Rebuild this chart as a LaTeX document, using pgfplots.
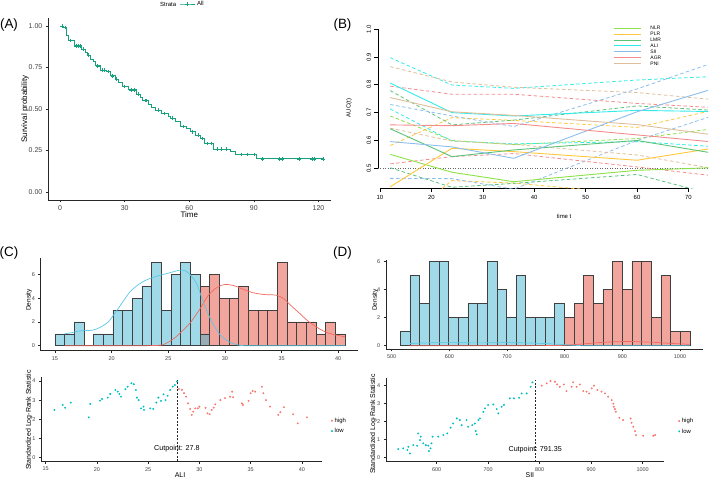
\documentclass[border=0pt]{standalone}
\usepackage{fontspec}
\setmainfont{Liberation Sans}
\usepackage{pgfplots}
\pgfplotsset{compat=1.18}

\definecolor{survgreen}{RGB}{25,160,125}
\definecolor{cNLR}{RGB}{140,225,70}
\definecolor{cPLR}{RGB}{255,200,60}
\definecolor{cLMR}{RGB}{90,195,120}
\definecolor{cALI}{RGB}{50,235,235}
\definecolor{cSII}{RGB}{140,190,235}
\definecolor{cAGR}{RGB}{245,140,140}
\definecolor{cPNI}{RGB}{222,190,155}
\definecolor{histblue}{RGB}{65,182,210}
\definecolor{histred}{RGB}{230,75,60}
\definecolor{denblue}{RGB}{90,200,230}
\definecolor{denred}{RGB}{240,105,95}
\definecolor{ptred}{RGB}{248,118,109}
\definecolor{ptblue}{RGB}{0,191,196}

\pgfplotsset{
  gg/.style={scale only axis, anchor=south west,
    axis x line*=bottom, axis y line*=left,
    axis line style={line width=0.6bp, black!85},
    tick align=outside, major tick length=2.2bp,
    tick style={line width=0.5bp, black!85},
    /pgf/number format/assume math mode=true,
    /pgf/number format/set thousands separator={},
    ticklabel style={font=\fontsize{5.5}{6}\selectfont, text=black!75},
  },
  bdash/.style={line width=0.8bp, dash pattern=on 3.5bp off 2.5bp, forget plot},
  bsolid/.style={line width=0.9bp},
  hbar/.style={ybar interval, draw=black!75, line width=0.6bp, fill opacity=0.5},
  ptstyle/.style={only marks, mark=*, mark size=0.75bp},
  scatleg/.style={legend style={draw=none, fill=none, font=\fontsize{6}{6}\selectfont, inner sep=0pt, row sep=0pt, column sep=1.5bp, nodes={inner sep=0.5bp, text height=6.5bp, text depth=2.8bp}},
    legend cell align=left,
    legend image code/.code={\draw[##1] plot coordinates {(1bp,0bp)};}},
}

\begin{document}
\begin{tikzpicture}
\useasboundingbox (0,0) rectangle (709bp,483bp);

% ---------------- Panel A ----------------
\begin{axis}[gg, at={(48bp,282.7bp)}, width=282.5bp, height=182.6bp,
  xmin=-5.6, xmax=125.6, ymin=-0.05, ymax=1.05,
  xtick={0,30,60,90,120}, ytick={0,0.25,0.5,0.75,1},
  ticklabel style={font=\fontsize{7}{8}\selectfont, text=black!75},
  yticklabel style={/pgf/number format/fixed, /pgf/number format/fixed zerofill, /pgf/number format/precision=2},
  xlabel={Time}, ylabel={Survival probability},
  label style={font=\fontsize{8}{9}\selectfont},
  xlabel style={at={(axis description cs:0.5,-0.08)}, anchor=center},
  ylabel style={at={(axis description cs:-0.0816,0.5)}, anchor=center},
  legend style={at={(axis description cs:0.464,1.075)}, anchor=west, draw=none, fill=none, font=\fontsize{6}{6}\selectfont, inner sep=0pt},
  legend image code/.code={\draw[mark repeat=2,mark phase=2,#1] plot coordinates {(0bp,0bp) (7.5bp,0bp) (15bp,0bp)};},
]
\addplot[const plot, survgreen, line width=0.9bp, forget plot] coordinates {
(0,1) (1.55,0.99) (3.09,0.946) (3.87,0.912) (6.5,0.88) (10.06,0.86) (11.6,0.84) (12.7,0.825) (13.9,0.80) (15.5,0.785) (16.6,0.76) (18.6,0.735) (21.7,0.725) (23.2,0.70) (25.5,0.68) (27.1,0.66) (28.95,0.635) (31.7,0.615) (35.6,0.59) (37.2,0.57) (38.2,0.55) (41.0,0.53) (42.6,0.51) (44.1,0.494) (47.2,0.474) (50.3,0.458) (51.1,0.444) (53.4,0.424) (55.7,0.394) (58.8,0.384) (60.4,0.363) (62.7,0.343) (65.0,0.323) (66.9,0.293) (71.2,0.259) (79.0,0.243) (81.3,0.227) (91.4,0.20) (122,0.20)};
\addplot[only marks, mark=+, mark size=1.8bp, survgreen, line width=0.5bp, forget plot] coordinates {
(1,1.0) (2.5,0.99) (4.8,0.912) (7.5,0.88) (8.5,0.88) (9.3,0.88) (11,0.86) (13.3,0.825) (17.5,0.76) (19.5,0.735) (20.5,0.735) (22.3,0.725) (24.3,0.70) (26.3,0.68) (30,0.635) (33,0.615) (34.3,0.615) (36.3,0.59) (39.5,0.55) (40.2,0.55) (45.5,0.494) (48.5,0.474) (52,0.444) (57,0.394) (61.5,0.363) (64,0.343) (66,0.323) (68.5,0.293) (70,0.293) (73,0.259) (75,0.259) (77,0.259) (84,0.227) (87,0.227) (90,0.227) (94,0.20) (102,0.20) (103,0.20) (111,0.20) (117,0.20) (118,0.20) (122,0.20)};
\addlegendimage{survgreen, line width=0.9bp, mark=+, mark size=2bp}
\addlegendentry{All}
\end{axis}

% ---------------- Panel B ----------------
\begin{axis}[scale only axis, anchor=south west, at={(377.9bp,294.6bp)}, width=330.1bp, height=165.5bp,
  xmin=9.6, xmax=73.8, ymin=0.428, ymax=1.022,
  axis x line*=bottom, axis y line*=left,
  axis line style={line width=0.5bp, black},
  x axis line style={shorten <=1.9bp, shorten >=19.5bp},
  y axis line style={shorten <=20bp, shorten >=6.1bp},
  tick align=outside, major tick length=3.5bp, tick style={line width=0.5bp, black},
  xtick={10,20,30,40,50,60,70}, ytick={0.5,0.6,0.7,0.8,0.9,1.0},
  /pgf/number format/assume math mode=true,
  ticklabel style={font=\fontsize{6}{7}\selectfont},
  yticklabel style={rotate=90, anchor=south, /pgf/number format/fixed, /pgf/number format/fixed zerofill, /pgf/number format/precision=1},
  xlabel={time t}, ylabel={AUC(t)}, label style={font=\fontsize{6}{7}\selectfont},
  xlabel style={at={(axis description cs:0.564,-0.167)}, anchor=center},
  ylabel style={at={(axis description cs:-0.0875,0.486)}, anchor=center},
  legend style={at={(axis description cs:0.712,0.987)}, anchor=north west, draw=none, fill=none,
    font=\fontsize{5}{5}\selectfont, inner sep=0pt, row sep=0pt, column sep=9bp,
    nodes={inner sep=0.4bp, text height=4bp, text depth=1.1bp}},
  legend cell align=left,
  legend image code/.code={\draw[#1, line width=0.9bp] (0bp,0bp) -- (27bp,0bp);},
]
\addplot[black!60, dotted, line width=0.5bp, forget plot] coordinates {(9.6,0.5) (73.8,0.5)};
% CI bounds (dashed)
\addplot[cNLR, bdash] coordinates {(12,0.688) (24,0.600) (36,0.585) (60,0.607) (74,0.640)};
\addplot[cNLR, bdash] coordinates {(12,0.412) (24,0.372) (36,0.320) (60,0.380) (74,0.364)};
\addplot[cPLR, bdash] coordinates {(12,0.582) (24,0.682) (36,0.672) (60,0.647) (74,0.705)};
\addplot[cPLR, bdash] coordinates {(12,0.280) (24,0.456) (36,0.447) (60,0.408) (74,0.415)};
\addplot[cLMR, bdash] coordinates {(12,0.779) (24,0.656) (36,0.673) (60,0.724) (74,0.709)};
\addplot[cLMR, bdash] coordinates {(12,0.502) (24,0.432) (36,0.446) (60,0.478) (74,0.410)};
\addplot[cALI, bdash] coordinates {(12,0.897) (24,0.799) (36,0.787) (60,0.817) (74,0.829)};
\addplot[cALI, bdash] coordinates {(12,0.713) (24,0.598) (36,0.588) (60,0.596) (74,0.579)};
\addplot[cSII, bdash] coordinates {(12,0.729) (24,0.688) (36,0.650) (60,0.785) (74,0.874)};
\addplot[cSII, bdash] coordinates {(12,0.464) (24,0.463) (36,0.425) (60,0.600) (74,0.684)};
\addplot[cAGR, bdash] coordinates {(12,0.795) (24,0.766) (36,0.766) (60,0.733) (74,0.719)};
\addplot[cAGR, bdash] coordinates {(12,0.516) (24,0.542) (36,0.553) (60,0.505) (74,0.475)};
\addplot[cPNI, bdash] coordinates {(12,0.865) (24,0.810) (36,0.791) (60,0.772) (74,0.748)};
\addplot[cPNI, bdash] coordinates {(12,0.644) (24,0.598) (36,0.586) (60,0.548) (74,0.502)};
% AUC (solid)
\addplot[cNLR, bsolid] coordinates {(12,0.550) (24,0.486) (36,0.452) (60,0.493) (74,0.502)};
\addlegendentry{NLR}
\addplot[cPLR, bsolid] coordinates {(12,0.434) (24,0.572) (36,0.560) (60,0.529) (74,0.570)};
\addlegendentry{PLR}
\addplot[cLMR, bsolid] coordinates {(12,0.642) (24,0.542) (36,0.566) (60,0.600) (74,0.557)};
\addlegendentry{LMR}
\addplot[cALI, bsolid] coordinates {(12,0.806) (24,0.700) (36,0.688) (60,0.708) (74,0.704)};
\addlegendentry{ALI}
\addplot[cSII, bsolid] coordinates {(12,0.596) (24,0.577) (36,0.536) (60,0.703) (74,0.781)};
\addlegendentry{SII}
\addplot[cAGR, bsolid] coordinates {(12,0.656) (24,0.653) (36,0.661) (60,0.620) (74,0.596)};
\addlegendentry{AGR}
\addplot[cPNI, bsolid] coordinates {(12,0.754) (24,0.703) (36,0.690) (60,0.657) (74,0.622)};
\addlegendentry{PNI}
\end{axis}

% ---------------- Panel C: histogram ----------------
\begin{axis}[gg, at={(40.7bp,132.3bp)}, width=316.8bp, height=92.4bp,
  xmin=13.74, xmax=41.7, ymin=-0.42, ymax=7.35,
  xtick={15,20,25,30,35,40}, ytick={0,2,4,6},
  ylabel={Density}, label style={font=\fontsize{6.5}{7}\selectfont},
  ylabel style={at={(axis description cs:-0.037,0.549)}, anchor=center},
]
\addplot[hbar, fill=histred] coordinates {
(27.8,5) (28.653,6) (29.507,4) (30.36,4) (31.213,5) (32.067,3) (32.92,3) (33.773,3) (34.627,7) (35.48,2) (36.333,2) (37.187,2) (38.04,1) (38.893,2) (39.747,1) (40.6,0)};
\addplot[hbar, fill=histblue] coordinates {
(15,1) (15.853,1) (16.707,2) (17.56,0) (18.413,1) (19.267,1) (20.12,3) (20.973,3) (21.827,4) (22.68,5) (23.533,7) (24.387,3) (25.24,6) (26.093,7) (26.947,6) (27.8,1) (28.653,0)};
\addplot[denred, line width=0.7bp, smooth, tension=0.5] coordinates {
(15.85,0) (20,0) (24,0.02) (24.8,0.2) (25.5,0.6) (26.3,1.3) (27,2.0) (27.8,3.1) (28.5,4.2) (29.3,4.9) (30,5.15) (30.8,5.05) (31.6,4.75) (32.5,4.45) (33.5,4.3) (34.5,4.25) (35.2,3.95) (35.8,3.4) (36.5,2.8) (37.3,2.1) (38.2,1.5) (39,1.1) (39.8,0.9) (40.6,0.75)};
\addplot[denblue, line width=0.7bp, smooth, tension=0.5] coordinates {
(15.85,1.0) (16.5,1.1) (17.2,1.25) (18.3,1.3) (19.0,1.55) (19.7,2.0) (20.3,2.75) (21.0,3.7) (21.6,4.5) (22.3,5.1) (23.0,5.5) (24.0,5.85) (25.0,6.1) (26.0,6.35) (26.5,6.3) (27.0,5.9) (27.5,5.2) (28.2,3.4) (28.8,2.1) (29.5,1.0) (30.3,0.35) (31.0,0.1) (31.8,0.0) (35,0) (40.6,0)};
\node[font=\fontsize{7}{8}\selectfont] at (axis description cs:0.465,1.198) {ALI};
\node[anchor=west, font=\fontsize{8.3}{9}\selectfont] at (axis description cs:0.004,1.09) {Distribution};
\end{axis}

% ---------------- Panel C: rank statistics ----------------
\begin{axis}[gg, scatleg, at={(41.1bp,21.5bp)}, width=281.2bp, height=84.4bp,
  xmin=14.55, xmax=42.0, ymin=-0.2, ymax=4.2,
  xtick={15,20,25,30,35,40}, ytick={0,1,2,3,4},
  xlabel={ALI}, ylabel={Standardized Log-Rank Statistic},
  label style={font=\fontsize{7}{8}\selectfont},
  xlabel style={at={(axis description cs:0.494,-0.16)}, anchor=center},
  ylabel style={at={(axis description cs:-0.043,0.49)}, anchor=center},
  legend style={at={(axis description cs:1.031,0.422)}, anchor=west},
]
\addplot[black!85, line width=0.6bp, dash pattern=on 2bp off 1.5bp, forget plot] coordinates {(27.8,-0.2) (27.8,4.05)};
\addplot[ptstyle, ptred] coordinates {
(28.0,3.58) (28.3,3.53) (28.5,3.36) (28.7,3.18) (28.9,2.83) (29.1,2.54) (29.26,2.23) (29.4,2.4) (29.6,2.57) (29.85,2.57) (30.0,2.66) (30.6,2.6) (30.8,2.31) (31.0,2.26) (31.2,2.49) (31.4,2.61) (31.55,2.78) (32.05,3.0) (32.5,3.1) (33.0,3.18) (33.2,3.44) (33.3,3.15) (34.15,2.83) (34.25,2.75) (34.8,2.96) (35.0,3.36) (35.2,3.48) (35.45,3.44) (36.1,3.7) (36.25,3.36) (36.5,3.0) (36.9,2.66) (37.7,2.23) (37.9,2.37) (38.25,2.63) (39.15,2.26) (39.6,1.79) (40.5,2.1)};
\addlegendentry{high}
\addplot[ptstyle, ptblue] coordinates {
(15.85,2.49) (16.66,2.75) (16.9,2.6) (17.45,2.87) (19.2,2.1) (19.35,2.8) (20.3,2.97) (20.5,3.06) (21.05,3.13) (21.3,3.32) (21.8,3.53) (22.03,3.44) (22.2,3.32) (22.35,3.18) (22.78,3.57) (23.0,3.7) (23.36,3.88) (23.6,3.83) (23.8,3.53) (23.9,3.13) (24.07,3.0) (24.3,2.57) (24.55,2.66) (24.6,2.49) (25.2,2.57) (25.5,2.54) (25.8,2.87) (26.0,3.13) (26.25,2.96) (26.5,3.3) (26.7,3.0) (26.9,3.23) (27.15,3.53) (27.4,3.7) (27.6,3.79) (27.8,3.97)};
\addlegendentry{low}
\node[font=\fontsize{7.2}{8}\selectfont] at (axis cs:27.8,0.45) {Cutpoint: 27.8};
\node[anchor=west, font=\fontsize{8.2}{9}\selectfont] at (axis description cs:0.003,1.084) {Maximally Selected Rank Statistics};
\node[anchor=west, font=\fontsize{8.5}{9}\selectfont] at (axis description cs:1.013,0.634) {grps};
\end{axis}

% ---------------- Panel D: histogram ----------------
\begin{axis}[gg, at={(385.9bp,133.8bp)}, width=317.2bp, height=89.6bp,
  xmin=490, xmax=1040, ymin=-0.25, ymax=6.15,
  xtick={500,600,700,800,900,1000}, ytick={0,2,4,6},
  ylabel={Density}, label style={font=\fontsize{6.5}{7}\selectfont},
  ylabel style={at={(axis description cs:-0.034,0.549)}, anchor=center},
]
\addplot[hbar, fill=histred] coordinates {
(799.47,2) (816.2,3) (832.93,5) (849.67,3) (866.4,4) (883.13,6) (899.87,4) (916.6,6) (933.33,6) (950.07,2) (966.8,5) (983.53,1) (1000.27,1) (1017,0)};
\addplot[hbar, fill=histblue] coordinates {
(515,1) (531.73,5) (548.47,3) (565.2,6) (581.93,6) (598.67,2) (615.4,2) (632.13,3) (648.87,3) (665.6,6) (682.33,4) (699.07,2) (715.8,5) (732.53,2) (749.27,2) (766,2) (782.73,3) (799.47,0)};
\addplot[denred, line width=0.7bp, smooth, tension=0.5] coordinates {
(531,0) (700,0) (780,0.01) (800,0.03) (830,0.12) (870,0.25) (910,0.3) (950,0.25) (990,0.15) (1017,0.1)};
\addplot[denblue, line width=0.7bp, smooth, tension=0.5] coordinates {
(531,0.15) (560,0.2) (600,0.22) (650,0.2) (700,0.22) (750,0.18) (790,0.1) (820,0.02) (850,0) (1017,0)};
\node[font=\fontsize{7}{8}\selectfont] at (axis description cs:0.475,1.256) {SII};
\node[anchor=west, font=\fontsize{8.3}{9}\selectfont] at (axis description cs:0.002,1.107) {Distribution};
\end{axis}

% ---------------- Panel D: rank statistics ----------------
\begin{axis}[gg, scatleg, at={(386bp,21.3bp)}, width=278.3bp, height=84.1bp,
  xmin=501.6, xmax=1042, ymin=-0.22, ymax=4.45,
  xtick={600,700,800,900,1000}, ytick={0,1,2,3,4},
  xlabel={SII}, ylabel={Standardized Log-Rank Statistic},
  label style={font=\fontsize{7}{8}\selectfont},
  xlabel style={at={(axis description cs:0.517,-0.158)}, anchor=center},
  ylabel style={at={(axis description cs:-0.046,0.45)}, anchor=center},
  legend style={at={(axis description cs:1.05,0.422)}, anchor=west},
]
\addplot[black!85, line width=0.6bp, dash pattern=on 2bp off 1.5bp, forget plot] coordinates {(791.35,-0.22) (791.35,4.3)};
\addplot[ptstyle, ptred] coordinates {
(804,4.0) (813.6,4.13) (821,4.26) (829.7,4.22) (834,4.07) (839,3.94) (847,4.07) (852,3.7) (862,3.94) (865,4.19) (871.8,3.94) (878,4.07) (884.7,3.7) (891,3.67) (896,3.57) (901,3.85) (905.4,4.0) (912,3.76) (920,3.67) (926.8,3.57) (933,3.39) (939.8,3.2) (943,3.0) (944,2.83) (946,2.7) (948,2.55) (954.6,2.22) (962,2.09) (976.7,2.18) (978.6,1.94) (981.8,1.72) (985,1.48) (987,1.26) (1001,1.22) (1020.6,1.22) (1024,1.26)};
\addlegendentry{high}
\addplot[ptstyle, ptblue] coordinates {
(525.4,0.48) (535,0.52) (543,0.43) (545,0.61) (548,0.24) (554.6,0.70) (562,0.67) (564,1.35) (567.6,0.98) (569,1.17) (574,0.8) (579,0.7) (583.7,0.67) (585,0.37) (588,0.52) (590,0.8) (592,1.17) (603,1.17) (613,1.26) (620.6,1.35) (627,1.67) (632,1.9) (639,2.18) (645,2.09) (648.5,1.81) (658,2.09) (661,1.72) (669,1.81) (674,1.9) (675.7,1.48) (677.7,1.3) (681,2.09) (684,2.18) (690.6,2.55) (693.8,2.74) (700,2.93) (710,2.96) (716.5,2.7) (719.6,2.46) (726,2.83) (730.7,2.93) (742,3.3) (750,3.3) (760,3.33) (765,3.57) (774.8,3.57) (782.5,3.94) (786,4.19)};
\addlegendentry{low}
\node[font=\fontsize{7.2}{8}\selectfont] at (axis cs:791.35,0.46) {Cutpoint: 791.35};
\node[anchor=west, font=\fontsize{8.2}{9}\selectfont] at (axis description cs:-0.01,1.09) {Maximally Selected Rank Statistics};
\node[anchor=west, font=\fontsize{8.5}{9}\selectfont] at (axis description cs:1.038,0.639) {grps};
\end{axis}

% ---------------- Panel letters and strata label ----------------
\node[font=\fontsize{13.5}{14}\selectfont] at (9bp,458bp) {(A)};
\node[font=\fontsize{13.5}{14}\selectfont] at (342.5bp,458bp) {(B)};
\node[font=\fontsize{13.5}{14}\selectfont] at (9bp,230bp) {(C)};
\node[font=\fontsize{13.5}{14}\selectfont] at (342.5bp,230bp) {(D)};
\node[font=\fontsize{6}{6}\selectfont, anchor=west, inner sep=0pt] at (160bp,479bp) {Strata};
\end{tikzpicture}
\end{document}
